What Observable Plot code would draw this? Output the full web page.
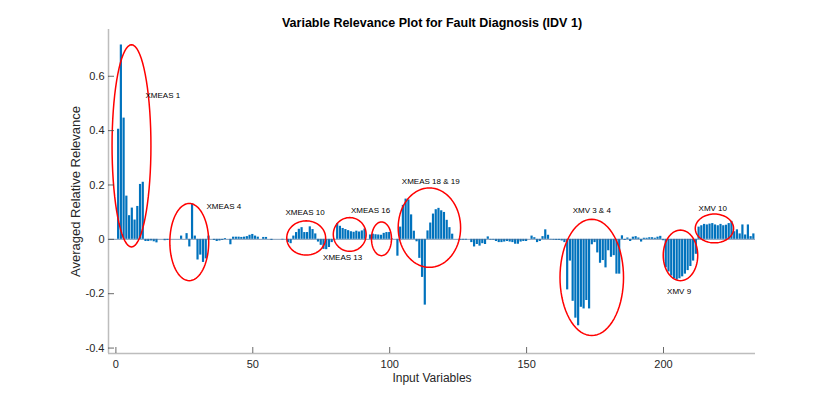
<!DOCTYPE html>
<html>
<head>
<meta charset="utf-8">
<script src="https://cdn.jsdelivr.net/npm/d3@7"></script>
<script src="https://cdn.jsdelivr.net/npm/@observablehq/plot@0.6"></script>
<style>
  html, body { margin: 0; padding: 0; background: #fff; }
</style>
</head>
<body>
<div id="chart"></div>
<script>
// Averaged relative relevance for input variables 1..233
const relevance = [
  0.405, 0.715, 0.446, 0.159, 0.087, 0.115, 0.071, 0.121, 0.202, 0.21,
  -0.008, -0.008, -0.006, -0.009, -0.013, 0, 0, -0.005, -0.004, 0,
  0, 0, 0, 0.012, 0, 0.021, -0.028, 0.13, 0.012, -0.076,
  -0.058, -0.085, -0.072, 0.012, 0, -0.004, -0.008, -0.006, -0.004, 0.003,
  0, -0.02, 0.008, 0.008, 0.008, 0.007, 0.008, 0.01, 0.015, 0.018,
  0.012, 0.008, 0, 0.007, 0.007, 0, -0.004, 0, 0, 0,
  -0.002, 0, -0.012, -0.016, 0.012, 0.025, 0.037, 0.043, 0.025, 0.025,
  0.046, 0.036, 0.02, -0.01, -0.022, -0.037, -0.038, -0.03, -0.012, 0,
  0.058, 0.048, 0.04, 0.036, 0.032, 0.028, 0.026, 0.03, 0.027, 0.031,
  0.038, 0, 0.016, 0.019, 0.017, 0.016, 0.015, 0.022, 0.025, 0.025,
  0.002, 0, -0.062, 0.045, 0.125, 0.148, 0.145, 0.09, 0.03, -0.009,
  -0.07, -0.14, -0.242, 0.031, 0.06, 0.093, 0.109, 0.114, 0.105, 0.099,
  0.07, 0.043, 0.019, 0, 0, -0.003, -0.003, -0.003, 0, -0.012,
  -0.028, -0.019, -0.025, -0.016, -0.019, 0.009, -0.003, -0.003, -0.008, -0.012,
  -0.012, -0.01, -0.008, -0.01, -0.012, -0.018, -0.018, -0.01, -0.008, -0.008,
  0, 0.012, 0.006, -0.012, -0.008, 0.01, 0.035, 0.015, -0.002, -0.003,
  -0.004, -0.004, -0.006, -0.012, -0.186, -0.08, -0.228, -0.29, -0.318, -0.25,
  -0.256, -0.225, -0.256, -0.02, -0.012, -0.05, -0.088, -0.078, -0.105, -0.042,
  -0.066, -0.06, -0.128, -0.128, 0.013, -0.004, 0.005, -0.008, 0.008, 0.01,
  0.005, -0.01, 0.004, 0.004, 0.006, 0.006, 0.004, 0.008, 0.011, -0.005,
  -0.105, -0.12, -0.135, -0.145, -0.15, -0.145, -0.138, -0.128, -0.115, -0.1,
  -0.08, -0.055, 0.045, 0.05, 0.055, 0.053, 0.056, 0.058, 0.053, 0.05,
  0.055, 0.05, 0.052, 0.058, 0.066, 0.028, 0.035, 0.02, 0.053, 0.016,
  0.053, 0.01, 0.02
];

const xTicks = [0, 50, 100, 150, 200];
const yTicks = [-0.4, -0.2, 0, 0.2, 0.4, 0.6];

// Highlighted groups: label text and label anchor (data units)
const groupNames  = ["XMEAS 1", "XMEAS 4", "XMEAS 10", "XMEAS 13", "XMEAS 16", "XMEAS 18 & 19", "XMV 3 & 4", "XMV 9", "XMV 10"];
const groupLabelX = [10.8, 33.1, 69.1, 82.8, 93.0, 115.0, 173.8, 205.7, 218.0];
const groupLabelY = [0.53, 0.12, 0.10, -0.068, 0.107, 0.212, 0.108, -0.19, 0.115];
const groupAnchor = ["start", "start", "middle", "middle", "middle", "middle", "middle", "middle", "middle"];
// Ellipse centres and radii (data units)
const ellCx = [5.7, 26.8, 69.5, 85.4, 97.0, 114.5, 173.8, 206.2, 218.6];
const ellCy = [0.344, -0.01, 0.005, 0.018, 0.002, 0.043, -0.14, -0.059, 0.04];
const ellRx = [7.1, 7.1, 7.1, 6.0, 3.66, 11.4, 11.6, 6.3, 7.0];
const ellRy = [0.372, 0.142, 0.063, 0.062, 0.062, 0.146, 0.214, 0.093, 0.053];

const bars = relevance.map((v, i) => ({k: i + 1, v}));
const labels = groupNames.map((t, i) => ({t, x: groupLabelX[i], y: groupLabelY[i], a: groupAnchor[i]}));
const ellipsePts = [];
groupNames.forEach((g, i) => {
  for (let j = 0; j < 72; j++) {
    const a = (2 * Math.PI * j) / 72;
    ellipsePts.push({g, x: ellCx[i] + ellRx[i] * Math.cos(a), y: ellCy[i] + ellRy[i] * Math.sin(a)});
  }
});

const xDomain = [-2.7, 233.6];
const yDomain = [-0.42, 0.772];
const W = 830, H = 397, mL = 108, mR = 75, mT = 29, mB = 44;
const fw = W - mL - mR, fh = H - mT - mB;

const chart = Plot.plot({
  width: W, height: H,
  marginLeft: mL, marginRight: mR, marginTop: mT, marginBottom: mB,
  x: {domain: xDomain, axis: null},
  y: {domain: yDomain, axis: null},
  style: {fontFamily: "'Liberation Sans', Arial, Helvetica, sans-serif", background: "#fff", color: "#262626"},
  marks: [
    Plot.rect(bars, {x1: d => d.k - 0.4, x2: d => d.k + 0.4, y1: d => 0, y2: "v", fill: "#0072BD"}),
    Plot.ruleY([0], {stroke: "#4d7399", strokeWidth: 0.7}),
    Plot.line(ellipsePts, {x: "x", y: "y", z: "g", stroke: "#ff0000", strokeWidth: 1.5, curve: "linear-closed"}),
    Plot.text(labels.filter(d => d.a === "start"), {x: "x", y: "y", text: "t", fontSize: 8, fill: "#000", textAnchor: "start"}),
    Plot.text(labels.filter(d => d.a === "middle"), {x: "x", y: "y", text: "t", fontSize: 8, fill: "#000", textAnchor: "middle"}),
    // axis lines
    Plot.ruleX([xDomain[0]], {stroke: "#bdbdbd", strokeWidth: 1.5}),
    Plot.ruleY([yDomain[0]], {stroke: "#bdbdbd", strokeWidth: 1.5}),
    // inward ticks
    Plot.tickX(xTicks, {x: d => d, insetTop: fh - 6, stroke: "#444", strokeWidth: 0.8}),
    Plot.tickY(yTicks, {y: d => d, insetRight: fw - 6, stroke: "#444", strokeWidth: 0.8}),
    Plot.axisX({ticks: xTicks, tickSize: 0, tickPadding: 7, fontSize: 11, label: null, tickFormat: d => String(d)}),
    Plot.axisY({ticks: yTicks, tickSize: 0, tickPadding: 4, fontSize: 11, label: null, tickFormat: d => String(d)}),
    // titles
    Plot.text(["Variable Relevance Plot for Fault Diagnosis (IDV 1)"], {frameAnchor: "top", dy: -11, fontWeight: "bold", fontSize: 12.5, fill: "#000", textAnchor: "middle"}),
    Plot.text(["Input Variables"], {frameAnchor: "bottom", dy: 28, fontSize: 12, fill: "#262626", textAnchor: "middle"}),
    Plot.text(["Averaged Relative Relevance"], {frameAnchor: "left", dx: -33, rotate: -90, fontSize: 13, fill: "#262626", textAnchor: "middle"})
  ]
});
document.getElementById("chart").appendChild(chart);
</script>
</body>
</html>
